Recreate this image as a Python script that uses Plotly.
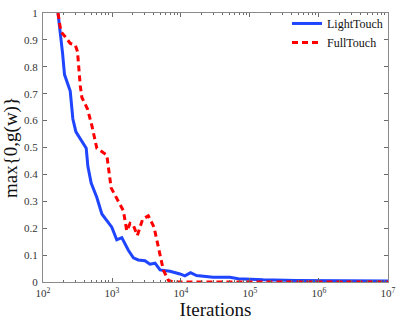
import plotly.graph_objs as go

# LightTouch (blue, solid)
light_iters = [165, 178, 192, 205, 248, 271, 300, 423, 447, 499, 603, 713, 841, 993,
               1172, 1387, 1726, 2042, 2399, 3006, 3548, 4207, 4966, 6918, 9661,
               11376, 13772, 16788, 29174, 50933, 67608, 154882, 467735, 1412538,
               10000000]
light_vals = [1.0, 0.936, 0.851, 0.771, 0.71, 0.606, 0.558, 0.497, 0.43, 0.368, 0.314,
              0.253, 0.228, 0.204, 0.157, 0.165, 0.118, 0.09, 0.082, 0.079, 0.066,
              0.07, 0.045, 0.040, 0.030, 0.023, 0.035, 0.024, 0.018, 0.018, 0.012,
              0.008, 0.006, 0.005, 0.004]

# FullTouch (red, dashed)
full_iters = [165, 182, 210, 248, 293, 316, 347, 366, 442, 510, 603, 794, 841, 971,
              1239, 1462, 1637, 1828, 2042, 2333, 2786, 3357, 4064, 4853, 5546,
              6561, 7762, 10000000]
full_vals = [1.0, 0.93, 0.912, 0.887, 0.881, 0.857, 0.729, 0.686, 0.643, 0.582, 0.497,
             0.478, 0.472, 0.35, 0.301, 0.265, 0.19, 0.218, 0.21, 0.173, 0.234, 0.246,
             0.204, 0.118, 0.045, 0.006, 0.0, 0.0]

y_ticks = [0, 0.1, 0.2, 0.3, 0.4, 0.5, 0.6, 0.7, 0.8, 0.9, 1]
y_ticktext = ['0', '0.1', '0.2', '0.3', '0.4', '0.5', '0.6', '0.7', '0.8', '0.9', '1']
x_ticks = [1e2, 1e3, 1e4, 1e5, 1e6, 1e7]
x_ticktext = ['10<sup>2</sup>', '10<sup>3</sup>', '10<sup>4</sup>',
              '10<sup>5</sup>', '10<sup>6</sup>', '10<sup>7</sup>']

serif = 'Liberation Serif, Times New Roman, serif'

data = [
    go.Scatter(x=light_iters, y=light_vals, mode='lines', name='LightTouch',
               line=dict(color='#1f45ff', width=3)),
    go.Scatter(x=full_iters, y=full_vals, mode='lines', name='FullTouch',
               line=dict(color='#ff0000', width=3, dash='6px,4px')),
]

axis_common = dict(
    showgrid=False, zeroline=False, showline=True, linecolor='#8a8a8a', linewidth=1,
    mirror='ticks', ticks='inside', ticklen=4, tickcolor='#6a6a6a', automargin=False,
    tickfont=dict(family=serif, size=11, color='#333333'),
)

layout = go.Layout(
    width=399, height=320,
    paper_bgcolor='white', plot_bgcolor='white',
    margin=dict(l=43, r=11, t=9, b=38),
    font=dict(family=serif, color='#222222'),
    xaxis=dict(
        type='log', range=[2, 7.0002], tickvals=x_ticks, ticktext=x_ticktext,
        minor=dict(ticks='inside', ticklen=2, tickcolor='#6a6a6a', dtick='D1'),
        title=dict(text='Iterations', font=dict(family=serif, size=19, color='#111111'),
                   standoff=0),
        ticklabelstandoff=1,
        **axis_common
    ),
    yaxis=dict(
        range=[0, 1], tickvals=y_ticks, ticktext=y_ticktext,
        title=dict(text='max{0,g(w)}', font=dict(family=serif, size=19, color='#111111'),
                   standoff=4),
        ticklabelstandoff=2,
        **axis_common
    ),
    legend=dict(x=1, y=1.015, xanchor='right', yanchor='top', bgcolor='rgba(0,0,0,0)',
                font=dict(family=serif, size=12, color='#111111'),
                tracegroupgap=0, itemwidth=30),
    showlegend=True,
)

fig = go.Figure(data=data, layout=layout)
fig.write_html("out.html", config={'displayModeBar': False},
               post_script="document.body.style.margin='0';")
